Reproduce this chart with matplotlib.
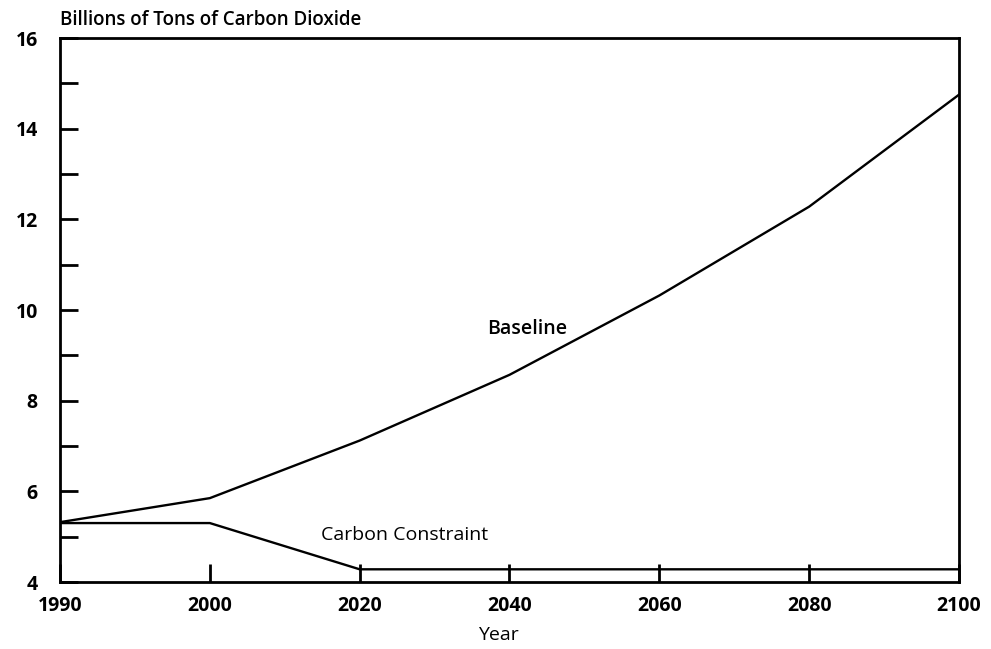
import matplotlib
matplotlib.use("Agg")
import matplotlib.pyplot as plt
import numpy as np

years = ["1990", "2000", "2020", "2040", "2060", "2080", "2100"]
baseline = [5.32, 5.85, 7.12, 8.57, 10.32, 12.28, 14.75]
constraint = [5.30, 5.30, 4.28, 4.28, 4.28, 4.28, 4.28]
y_ticks = [4, 6, 8, 10, 12, 14, 16]

plt.rcParams['font.family'] = ['Open Sans', 'DejaVu Sans']

fig = plt.figure(figsize=(9.91, 6.49), dpi=100)
ax = fig.add_axes([60/991, (649-582)/649, (959-60)/991, (582-38)/649])

x = np.arange(len(years))
ax.plot(x, baseline, color='black', lw=1.7)
ax.plot(x, constraint, color='black', lw=1.7)

ax.set_xlim(0, len(years)-1)
ax.set_ylim(4, 16)
ax.set_xticks(x)
ax.set_xticklabels(years, fontsize=14, fontweight='bold')
ax.set_yticks(y_ticks)
ax.set_yticklabels([str(v) for v in y_ticks], fontsize=14, fontweight='bold')
ax.set_yticks(np.arange(5, 16, 2), minor=True)

ax.tick_params(axis='both', which='both', direction='in', length=13, width=2, color='black')
ax.tick_params(axis='y', which='major', pad=16)
ax.tick_params(axis='x', which='major', pad=10)
for s in ax.spines.values():
    s.set_linewidth(2)
    s.set_color('black')

ax.text(3.12, 9.58, "Baseline", fontsize=14, fontweight='semibold', ha='center', va='center')
ax.text(2.30, 5.04, "Carbon Constraint", fontsize=14, ha='center', va='center')
fig.text(60/991, 1 - 20/649, "Billions of Tons of Carbon Dioxide", fontsize=13.5,
         fontweight='semibold', ha='left', va='center')
fig.text(498/991, 1 - 635/649, "Year", fontsize=14, ha='center', va='center')

fig.savefig("out.png", dpi=100)
